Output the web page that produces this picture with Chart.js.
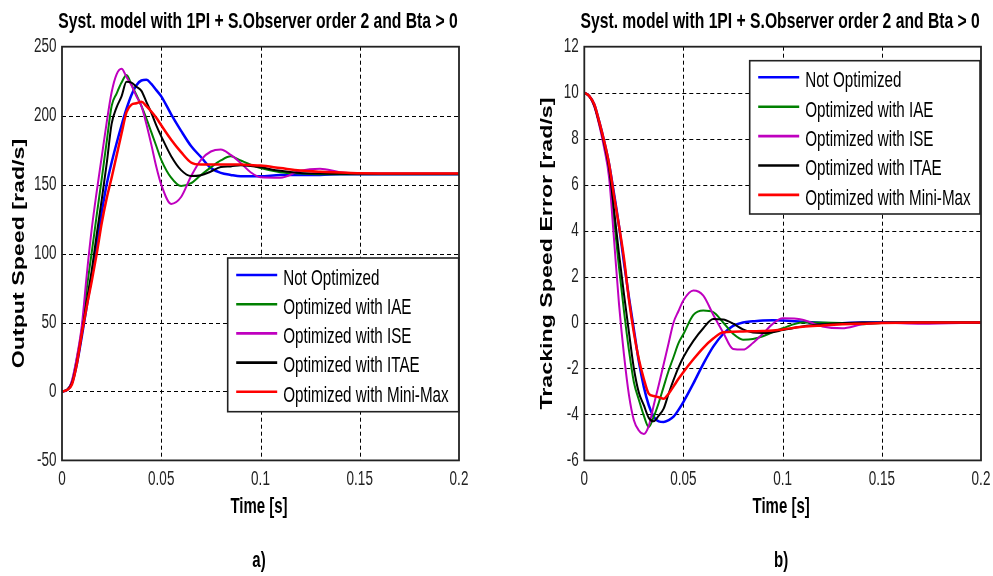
<!DOCTYPE html>
<html><head><meta charset="utf-8">
<script src="https://cdn.jsdelivr.net/npm/chart.js@4.4.1/dist/chart.umd.min.js"></script>
<style>
html,body{margin:0;padding:0;background:#fff;width:993px;height:576px;overflow:hidden;}
canvas{position:absolute;top:0;}
#c1{left:0}
#c2{left:496px}
</style></head><body>
<canvas id="c1" width="496" height="576"></canvas>
<canvas id="c2" width="497" height="576"></canvas>
<script>
// ---------- data ----------
const time = [0,0.0025,0.005,0.0075,0.01,0.0125,0.015,0.0175,0.02,0.0225,0.025,0.0275,0.03,0.0325,0.035,0.0375,0.04,0.0425,0.045,0.0475,0.05,
  0.055,0.06,0.065,0.07,0.075,0.08,0.085,0.09,0.095,0.1,
  0.11,0.12,0.13,0.14,0.15,0.17,0.2];

const seriesLabels = ['Not Optimized','Optimized with IAE','Optimized with ISE','Optimized with ITAE','Optimized with Mini-Max'];
const seriesColors = ['#0000ff','#008000','#bf00bf','#000000','#ff0000'];
const seriesWidths = [2.5,2,2,2,2.5];

// a) Output Speed [rad/s]
const speedNotOptimized = [0,1,6,20,40,62,84,108,130,150,166,180,193,205,215,222,225.5,226,223,218.5,214,
  201,189,178,170,162,158.5,157,156,156,156, 157,157,157,157.5,157.5, 157.5,157.5];
const speedIAE = [0,1,7,24,45,75,101,128,154,181,207,216,224,229.5,222.5,215,207,198,188,178,168,
  155,149,151,157,162.5,167.5,170.5,167.5,164.5,162, 159,158,157.5,157.5,157.5, 157.5,157.5];
const speedISE = [0,1,8,25,48,85,118,145,170,195,217,230,234,228,222,214,207,194,179,163,150,
  136,141,156,168,174,175.4,171.5,165.7,159,155.3, 155,160,161.5,159,158, 158,158];
const speedITAE = [0,1,6,21,42,66,88,114,139,165,194,206,214,224.5,224,221,218,210,202,193,185,
  170.6,160.5,156.2,156.8,159.5,162.7,163.2,164,163.5,162.5, 160,158.5,158,157.8,157.8, 157.8,157.8];
const speedMiniMax = [0,1,5,20,42,62,80,100,122,140,155,171,187,202.5,208,209,210,207,203,198.5,193,
  182.5,173.5,166,164.5,164.5,164.5,164.5,164.5,164.2,163.8, 162,160.2,159.3,158.8,158.3, 158,158];

// b) Tracking Speed Error [rad/s]
const errNotOptimized = [10,9.85,9.5,8.75,7.9,6.9,5.6,4.2,2.6,1.1,-0.3,-1.7,-2.8,-3.6,-4.1,-4.3,-4.33,-4.25,-4.1,-3.8,-3.45,
  -2.65,-1.8,-1.05,-0.5,-0.15,0,0.05,0.09,0.1,0.09, 0.03,-0.02,-0.03,0,0, 0,0];
const errIAE = [10,9.85,9.45,8.65,7.75,6.6,4.5,2.4,0.5,-1.2,-2.6,-3.36,-4.05,-4.55,-4.1,-3.5,-2.8,-2.1,-1.5,-0.9,-0.5,
  0.33,0.52,0.45,0,-0.49,-0.75,-0.72,-0.6,-0.42,-0.25, 0,0,-0.02,-0.08,-0.02, 0,0];
const errISE = [10,9.85,9.4,8.6,7.6,6.3,3.6,0.8,-1.4,-3.15,-4.25,-4.7,-4.85,-4.5,-3.6,-2.73,-1.82,-0.9,0,0.5,0.97,
  1.39,1.17,0.34,-0.43,-1.15,-1.18,-0.89,-0.49,-0.06,0.18, 0.12,-0.17,-0.25,-0.08,-0.01, -0.05,0];
const errITAE = [10,9.85,9.45,8.7,7.8,6.7,4.9,3.0,1.23,-0.42,-2.0,-3.05,-3.6,-4.15,-4.3,-4.05,-3.75,-3.1,-2.5,-1.95,-1.5,
  -0.8,-0.25,0.15,0.13,-0.05,-0.3,-0.44,-0.46,-0.42,-0.33, -0.17,-0.08,-0.03,0,0, 0,0];
const errMiniMax = [10,9.85,9.5,8.75,7.9,6.9,5.5,4.2,2.8,1.0,-0.45,-1.6,-2.45,-3.1,-3.2,-3.25,-3.32,-3.1,-2.78,-2.45,-2.15,
  -1.6,-1.1,-0.7,-0.42,-0.4,-0.39,-0.38,-0.37,-0.35,-0.3, -0.19,-0.13,-0.08,-0.05,-0.02, 0,0];

const xTicks = [0,0.05,0.1,0.15,0.2];
const speedTicks = [-50,0,50,100,150,200,250];
const errTicks = [-6,-4,-2,0,2,4,6,8,10,12];

const titleText = 'Syst. model with 1PI + S.Observer order 2 and Bta > 0';
const xTitleText = 'Time [s]';
const speedTitle = 'Output Speed [rad/s]';
const errTitle = 'Tracking Speed Error [rad/s]';

// ---------- drawing helpers ----------
const FONT = '"Liberation Sans", Arial, Helvetica, sans-serif';
const SY = 1.45;
function stxt(ctx, s, x, y, px, weight, align, baseline, rotate, color, sy) {
  const k = sy || SY;
  ctx.save();
  ctx.translate(x, y);
  if (rotate) { ctx.rotate(-Math.PI / 2); ctx.scale(k, 1); } else { ctx.scale(1, k); }
  ctx.font = weight + ' ' + px + 'px ' + FONT;
  ctx.textAlign = align;
  ctx.textBaseline = baseline;
  ctx.fillStyle = color || '#000';
  ctx.fillText(s, 0, 0);
  ctx.restore();
}
function fmt(v) { return String(Math.round(v * 1000) / 1000); }

const decor = {
  id: 'decor',
  beforeDatasetsDraw(chart, args, o) {
    const { ctx, chartArea: a } = chart;
    const x = chart.scales.x, y = chart.scales.y;
    ctx.save();
    ctx.strokeStyle = '#000';
    ctx.lineWidth = 1;
    ctx.setLineDash([4, 3]);
    x.ticks.forEach(t => {
      if (t.value <= x.min || t.value >= x.max) return;
      const px = Math.round(x.getPixelForValue(t.value)) + 0.5;
      ctx.beginPath(); ctx.moveTo(px, a.top); ctx.lineTo(px, a.bottom); ctx.stroke();
    });
    y.ticks.forEach(t => {
      if (t.value <= y.min || t.value >= y.max) return;
      const py = Math.round(y.getPixelForValue(t.value)) + 0.5;
      ctx.beginPath(); ctx.moveTo(a.left, py); ctx.lineTo(a.right, py); ctx.stroke();
    });
    ctx.restore();
  },
  afterDatasetsDraw(chart, args, o) {
    const { ctx, chartArea: a } = chart;
    const x = chart.scales.x, y = chart.scales.y;
    const cx = (a.left + a.right) / 2;
    // axes box
    ctx.save();
    ctx.strokeStyle = '#222';
    ctx.lineWidth = 1.8;
    ctx.strokeRect(a.left, a.top, a.right - a.left, a.bottom - a.top);
    ctx.restore();
    // tick labels
    x.ticks.forEach(t => stxt(ctx, fmt(t.value), x.getPixelForValue(t.value), 484.5, 13.5, 'normal', 'center', 'alphabetic', false, '#222', 1.55));
    y.ticks.forEach(t => stxt(ctx, fmt(t.value), a.left - 5.5, y.getPixelForValue(t.value), 13.5, 'normal', 'right', 'middle', false, '#222', 1.55));
    // titles
    stxt(ctx, o.title, cx - 2.5, 28, 15.7, 'bold', 'center', 'alphabetic', false, '#000');
    stxt(ctx, o.xTitle, cx - 1.5, 513, 15, 'bold', 'center', 'alphabetic', false, '#000');
    stxt(ctx, o.panel, cx - 1.5, 567, 15, 'bold', 'center', 'alphabetic', false, '#000');
    stxt(ctx, o.yTitle, o.yTitleX, (a.top + a.bottom) / 2, 16, 'bold', 'center', 'middle', true, '#000');
    // legend
    const L = o.legend;
    ctx.save();
    ctx.fillStyle = '#fff';
    ctx.fillRect(L.x0, L.y0, L.x1 - L.x0, L.y1 - L.y0);
    ctx.strokeStyle = '#222';
    ctx.lineWidth = 1.6;
    ctx.strokeRect(L.x0, L.y0, L.x1 - L.x0, L.y1 - L.y0);
    seriesLabels.forEach((lab, k) => {
      const ly = L.y0 + L.first + k * L.gap;
      ctx.strokeStyle = seriesColors[k];
      ctx.lineWidth = 2.6;
      ctx.beginPath(); ctx.moveTo(L.x0 + 8.5, ly); ctx.lineTo(L.x0 + 49.5, ly); ctx.stroke();
      stxt(ctx, lab, L.x0 + 55.5, ly + 9.8, 15.2, 'normal', 'left', 'alphabetic', false, '#000');
    });
    ctx.restore();
  }
};

function makeChart(id, series, yMin, yMax, yTicks, cfg) {
  const datasets = series.map((arr, k) => ({
    label: seriesLabels[k],
    data: time.map((t, i) => ({ x: t, y: arr[i] })),
    borderColor: seriesColors[k],
    backgroundColor: seriesColors[k],
    borderWidth: seriesWidths[k],
    pointRadius: 0,
    fill: false,
    cubicInterpolationMode: 'monotone',
    order: series.length - 1 - k
  }));
  return new Chart(document.getElementById(id), {
    type: 'line',
    data: { datasets },
    options: {
      responsive: false,
      animation: false,
      devicePixelRatio: 1,
      layout: { padding: { left: 0, top: 46.7, right: cfg.padRight, bottom: 0 } },
      scales: {
        x: {
          type: 'linear', min: 0, max: 0.2,
          afterBuildTicks: s => { s.ticks = xTicks.map(v => ({ value: v })); },
          afterFit: s => { s.height = 115.6; },
          ticks: { display: false }, grid: { display: false }, border: { display: false }
        },
        y: {
          type: 'linear', min: yMin, max: yMax,
          afterBuildTicks: s => { s.ticks = yTicks.map(v => ({ value: v })); },
          afterFit: s => { s.width = cfg.yWidth; },
          ticks: { display: false }, grid: { display: false }, border: { display: false }
        }
      },
      plugins: {
        legend: { display: false },
        tooltip: { enabled: false },
        decor: cfg.decor
      }
    },
    plugins: [decor]
  });
}

makeChart('c1', [speedNotOptimized, speedIAE, speedISE, speedITAE, speedMiniMax], -50, 250, speedTicks, {
  padRight: 37, yWidth: 62,
  decor: { title: titleText, xTitle: xTitleText, panel: 'a)', yTitle: speedTitle, yTitleX: 19.5,
    legend: { x0: 227.7, y0: 258, x1: 458.7, y1: 411.7, first: 17, gap: 29.2 } }
});
makeChart('c2', [errNotOptimized, errIAE, errISE, errITAE, errMiniMax], -6, 12, errTicks, {
  padRight: 12, yWidth: 88.3,
  decor: { title: titleText, xTitle: xTitleText, panel: 'b)', yTitle: errTitle, yTitleX: 52,
    legend: { x0: 253.7, y0: 60.7, x1: 484, y1: 214, first: 16.6, gap: 29.4 } }
});
</script>
</body></html>
